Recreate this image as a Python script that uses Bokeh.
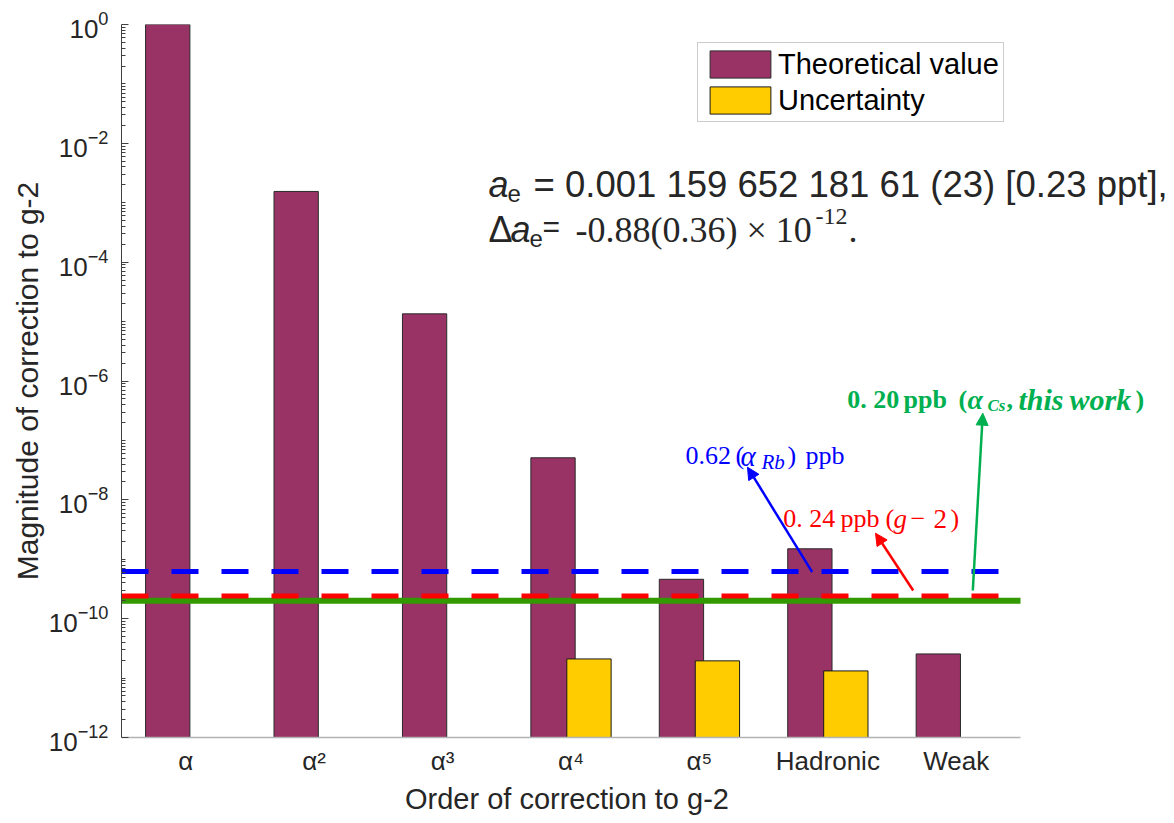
import math
from bokeh.plotting import figure
from bokeh.models import (FixedTicker, Arrow, NormalHead, Label, Legend,
                          LegendItem, ColumnDataSource, Range1d, Title)
from bokeh.embed import file_html
from bokeh.resources import INLINE

# ---------------- data ----------------
categories = ["α", "α", "α", "α", "α", "Hadronic", "Weak"]
powers = ["", "²", "³", "⁴", "⁵", "", ""]
theoretical = [1.0, 1.55e-3, 1.35e-5, 5.1e-8, 4.6e-10, 1.5e-9, 2.55e-11]
uncertainty = [None, None, None, 2.1e-11, 1.95e-11, 1.32e-11, None]
y_tick_values = [1e0, 1e-2, 1e-4, 1e-6, 1e-8, 1e-10, 1e-12]
level_rb = 0.62e-9     # 0.62 ppb (alpha_Rb)
level_g2 = 0.24e-9     # 0.24 ppb (g-2)
level_cs = 0.20e-9     # 0.20 ppb (alpha_Cs, this work)

# ---------------- layout ----------------
W, H = 1172, 820
X_LO, X_HI = 0.5, 7.5          # category axis extent
AXIS_RIGHT = 1020              # where the category axis ends (px)
MB_L, MB_T = 121, 24
MB_B = H - 737
FRAME_H = H - MB_T - MB_B
FL = MB_L
FT = MB_T
XS = (AXIS_RIGHT - FL) / (X_HI - X_LO)
DEC = FRAME_H / 12.0
X_VIEW_END = X_LO + (W - FL) / XS   # frame runs to the right canvas edge so text is not cut


def px2x(px):
    return X_LO + (px - FL) / XS


def py2y(py):
    return 10 ** (-(py - FT) / DEC)


SANS = "Liberation Sans"
SERIF = "Liberation Serif"
DARK = "#262626"
PURPLE = "#993366"
GOLD = "#FFCC00"
BLUE = "#0000FF"
RED = "#FF0000"
GREEN_TXT = "#00B050"
GREEN_LINE = "#339900"

p = figure(width=W, height=H, x_range=Range1d(X_LO, X_VIEW_END), y_range=Range1d(1e-12, 1.0),
           y_axis_type="log", output_backend="svg", toolbar_location=None,
           min_border_left=MB_L, min_border_right=0, min_border_top=MB_T,
           min_border_bottom=MB_B)
p.outline_line_color = None
p.xgrid.visible = False
p.ygrid.visible = False
p.background_fill_color = "white"
p.border_fill_color = "white"

# ---------------- bars ----------------
off = 0.14
bw = 0.345
th_src = ColumnDataSource(dict(x=[i + 1 - off for i in range(len(theoretical))],
                               top=theoretical,
                               bottom=[1e-12] * len(theoretical)))
ux = [i + 1 + off for i, u in enumerate(uncertainty) if u is not None]
uv = [u for u in uncertainty if u is not None]
un_src = ColumnDataSource(dict(x=ux, top=uv, bottom=[1e-12] * len(uv)))

r_th = p.vbar(x="x", top="top", bottom="bottom", width=bw, source=th_src,
              fill_color=PURPLE, line_color="#2a2a2a", line_width=1)
r_un = p.vbar(x="x", top="top", bottom="bottom", width=bw, source=un_src,
              fill_color=GOLD, line_color="#1a1a1a", line_width=1)

# ---------------- reference lines (span the category axis only) ----------------
p.segment(x0=[X_LO], x1=[X_HI], y0=[level_cs], y1=[level_cs],
          line_color=GREEN_LINE, line_width=6)
p.segment(x0=[X_LO], x1=[X_HI], y0=[level_g2], y1=[level_g2],
          line_color=RED, line_width=5, line_dash="27 23")
p.segment(x0=[X_LO], x1=[X_HI], y0=[level_rb], y1=[level_rb],
          line_color=BLUE, line_width=5, line_dash="27 23")

# ---------------- axes ----------------
minor = [m * 10.0 ** e for e in range(-12, 0) for m in range(1, 10)
         if not (m == 1 and e % 2 == 0)]
ya = p.yaxis[0]
ya.ticker = FixedTicker(ticks=y_tick_values, minor_ticks=minor)
ya.axis_line_color = "#404040"
ya.major_tick_line_color = "#404040"
ya.minor_tick_line_color = "#404040"
ya.major_tick_in = 7
ya.major_tick_out = 0
ya.minor_tick_in = 4
ya.minor_tick_out = 0
ya.major_label_standoff = 13
ya.major_label_text_font = SANS
ya.major_label_text_font_size = "26px"
ya.major_label_text_color = DARK
ya.axis_label = "Magnitude of correction to g-2"
ya.axis_label_text_font = SANS
ya.axis_label_text_font_size = "30px"
ya.axis_label_text_font_style = "normal"
ya.axis_label_text_color = DARK
ya.axis_label_standoff = 2

xa = p.xaxis[0]
xa.ticker = FixedTicker(ticks=list(range(1, 8)))
xa.bounds = (X_LO, X_HI)
xa.major_label_overrides = {i + 1: c + pw for i, (c, pw) in enumerate(zip(categories, powers))}
xa.axis_line_color = "#b3b3b3"
xa.axis_line_width = 1.5
xa.major_tick_in = 0
xa.major_tick_out = 0
xa.minor_tick_in = 0
xa.minor_tick_out = 0
xa.major_label_standoff = 8
xa.major_label_text_font = SANS
xa.major_label_text_font_size = "26px"
xa.major_label_text_color = DARK

# x-axis title, centred under the category axis (the frame runs further right)
x_title = Title(text="Order of correction to g-2", align="left",
                offset=(FL + AXIS_RIGHT) / 2 - FL - 166,
                text_font=SANS, text_font_size="29px", text_font_style="normal",
                text_color=DARK, standoff=4)
p.add_layout(x_title, "below")

# ---------------- legend ----------------
legend = Legend(items=[LegendItem(label="Theoretical value", renderers=[r_th]),
                       LegendItem(label="Uncertainty", renderers=[r_un])],
                location=(576, 615))
legend.label_text_font = SANS
legend.label_text_font_size = "29px"
legend.label_text_color = "#000000"
legend.glyph_width = 76
legend.glyph_height = 34
legend.label_standoff = 0
legend.padding = 4
legend.spacing = 2
legend.margin = 0
legend.border_line_color = "#999999"
legend.border_line_width = 1
legend.background_fill_color = "white"
legend.background_fill_alpha = 1.0
p.add_layout(legend)


def add_text(t, px, py, font, size, style, color, align="left"):
    p.add_layout(Label(x=px, y=py, x_units="canvas", y_units="canvas",
                       text=t, text_align=align, text_baseline="alphabetic",
                       text_font=font, text_font_size=f"{size}px",
                       text_font_style=style, text_color=color, level="overlay"))


# ---------------- annotation texts ----------------
# (text, x px, baseline y px, font, size px, style, color)
texts = [
    ("a", 488, 184, SANS, 36, "italic", DARK),
    ("e", 507, 193, SANS, 24, "normal", DARK),
    ("= 0.001 159 652 181 61 (23) [0.23 ppt],", 533, 184, SANS, 36.5, "normal", DARK),
    ("Δ", 488, 229, SANS, 36, "normal", DARK),
    ("a", 510, 229, SANS, 36, "italic", DARK),
    ("e", 529, 238, SANS, 24, "normal", DARK),
    ("=", 542, 226, SANS, 30, "normal", DARK),
    ("-0.88(0.36) × 10", 575, 229, SERIF, 36, "normal", DARK),
    ("-12", 815, 216, SERIF, 24, "normal", DARK),
    (".", 848, 229, SERIF, 36, "normal", DARK),

    ("0.62", 685, 455, SERIF, 26, "normal", BLUE),
    ("(", 735, 455, SERIF, 26, "normal", BLUE),
    ("α", 740, 455, SERIF, 29, "italic", BLUE),
    ("Rb", 761, 461, SERIF, 21, "italic", BLUE),
    (")", 787, 455, SERIF, 26, "normal", BLUE),
    ("ppb", 805, 455, SERIF, 26, "normal", BLUE),

    ("0. 24", 782.7, 518, SERIF, 26, "normal", RED),
    ("ppb", 840, 518, SERIF, 26, "normal", RED),
    ("(", 885, 518, SERIF, 26, "normal", RED),
    ("g", 893, 518, SERIF, 27, "italic", RED),
    ("−", 910, 518, SERIF, 26, "normal", RED),
    ("2", 933, 518, SERIF, 27, "normal", RED),
    (")", 950, 518, SERIF, 26, "normal", RED),

    ("0. 20", 846.7, 399, SERIF, 26, "bold", GREEN_TXT),
    ("ppb", 903, 399, SERIF, 26, "bold", GREEN_TXT),
    ("(", 958, 399, SERIF, 26, "bold", GREEN_TXT),
    ("α", 967, 399, SERIF, 28, "bold italic", GREEN_TXT),
    ("Cs", 987, 405, SERIF, 17, "bold italic", GREEN_TXT),
    (",", 1006, 399, SERIF, 26, "bold", GREEN_TXT),
    ("this", 1018, 399, SERIF, 30, "bold italic", GREEN_TXT),
    ("work", 1069, 399, SERIF, 30, "bold italic", GREEN_TXT),
    (")", 1135, 399, SERIF, 26, "bold", GREEN_TXT),
]
for t, px, py, font, size, style, color in texts:
    add_text(t, px, py, font, size, style, color)

# ---------------- arrows ----------------
# (x start px, y start px, x end px, y end px, color)
arrows = [
    (811.7, 571.7, 747.0, 466.7, BLUE),
    (912.7, 590.0, 875.0, 532.7, RED),
    (972.3, 590.0, 982.3, 412.7, GREEN_TXT),
]
for xs_, ys_, xe_, ye_, c in arrows:
    p.add_layout(Arrow(end=NormalHead(size=12, fill_color=c, line_color=c, line_width=1),
                       x_start=px2x(xs_), y_start=py2y(ys_),
                       x_end=px2x(xe_), y_end=py2y(ye_),
                       line_color=c, line_width=2.5))

open("out.html", "w").write(file_html(p, INLINE))
